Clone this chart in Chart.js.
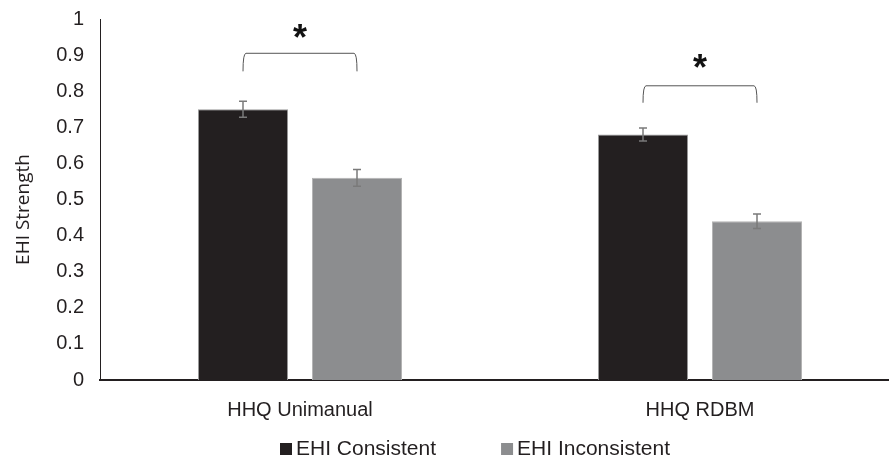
<!DOCTYPE html>
<html>
<head>
<meta charset="utf-8">
<script src="https://cdn.jsdelivr.net/npm/chart.js@4"></script>
<style>
  html, body { margin: 0; padding: 0; background: #fff; overflow: hidden; }
  #wrap { width: 900px; height: 462px; }
</style>
</head>
<body>
<div id="wrap"><canvas id="ehi-chart"></canvas></div>
<script>
  // Data
  var categories = ["HHQ Unimanual", "HHQ RDBM"];
  var consistent = [0.75, 0.68];
  var inconsistent = [0.56, 0.44];
  var consistentErr = [0.022, 0.018];
  var inconsistentErr = [0.023, 0.02];
  var yTicks = [0, 0.1, 0.2, 0.3, 0.4, 0.5, 0.6, 0.7, 0.8, 0.9, 1];
  var yTitle = "EHI Strength";
  // significance brackets: top of bracket, bottom of legs, star position
  var bracketTop = [0.905, 0.815];
  var bracketFoot = [0.855, 0.768];
  var starLevel = [0.965, 0.88];
  var starText = ["*", "*"];

  var FONT = "'Liberation Sans', Arial, sans-serif";
  var TEXT = "#231f20";

  // error bars + brackets
  var extras = {
    id: "extras",
    afterDatasetsDraw: function (chart) {
      var ctx = chart.ctx;
      var y = chart.scales.y;
      var errs = [consistentErr, inconsistentErr];
      var vals = [consistent, inconsistent];
      ctx.save();
      ctx.strokeStyle = "#7a7a7a";
      ctx.lineWidth = 1.5;
      for (var d = 0; d < 2; d++) {
        var meta = chart.getDatasetMeta(d);
        meta.data.forEach(function (bar, i) {
          var lo = y.getPixelForValue(vals[d][i] - errs[d][i]);
          var hi = y.getPixelForValue(vals[d][i] + errs[d][i]);
          ctx.beginPath();
          ctx.moveTo(bar.x, lo); ctx.lineTo(bar.x, hi);
          ctx.moveTo(bar.x - 4, lo); ctx.lineTo(bar.x + 4, lo);
          ctx.moveTo(bar.x - 4, hi); ctx.lineTo(bar.x + 4, hi);
          ctx.stroke();
        });
      }
      ctx.strokeStyle = "#555";
      ctx.lineWidth = 1;
      ctx.lineJoin = "round";
      var a = chart.getDatasetMeta(0).data, b = chart.getDatasetMeta(1).data;
      for (var i = 0; i < categories.length; i++) {
        var x1 = a[i].x, x2 = b[i].x;
        var t = y.getPixelForValue(bracketTop[i]);
        var f = y.getPixelForValue(bracketFoot[i]);
        ctx.beginPath();
        ctx.moveTo(x1, f);
        ctx.quadraticCurveTo(x1, t, x1 + 3, t);
        ctx.lineTo(x2 - 3, t);
        ctx.quadraticCurveTo(x2, t, x2, f);
        ctx.stroke();
        ctx.fillStyle = "#111";
        ctx.font = "bold 36px " + FONT;
        ctx.textAlign = "center";
        ctx.textBaseline = "middle";
        ctx.fillText(starText[i], (x1 + x2) / 2, y.getPixelForValue(starLevel[i]) + 8);
      }
      ctx.restore();
    }
  };

  // y title and legend drawn by hand so placement matches the original
  var labelsPlugin = {
    id: "labelsPlugin",
    afterDraw: function (chart) {
      var ctx = chart.ctx;
      var area = chart.chartArea;
      ctx.save();
      ctx.fillStyle = TEXT;
      ctx.font = "19px 'Open Sans', sans-serif";
      ctx.textAlign = "center";
      ctx.textBaseline = "middle";
      ctx.translate(24, (area.top + area.bottom) / 2 + 10);
      ctx.rotate(-Math.PI / 2);
      ctx.fillText(yTitle, 0, 0);
      ctx.restore();

      var x = 280, yMid = 449;
      ctx.save();
      ctx.font = "21px " + FONT;
      ctx.textBaseline = "middle";
      ctx.textAlign = "left";
      chart.data.datasets.forEach(function (ds) {
        ctx.fillStyle = ds.backgroundColor;
        ctx.fillRect(x, yMid - 6, 12, 12);
        ctx.fillStyle = TEXT;
        ctx.fillText(ds.label, x + 16, yMid);
        x += 16 + ctx.measureText(ds.label).width + 65;
      });
      ctx.restore();
    }
  };

  var ctx = document.getElementById("ehi-chart").getContext("2d");
  var myChart = new Chart(ctx, {
    type: "bar",
    data: {
      labels: categories,
      datasets: [{
        label: "EHI Consistent",
        data: consistent,
        backgroundColor: "#231f20",
        borderColor: "#9a9a9a",
        borderWidth: 1,
        borderSkipped: "bottom"
      },
      {
        label: "EHI Inconsistent",
        data: inconsistent,
        backgroundColor: "#8c8d8f",
        borderColor: "#b4b4b4",
        borderWidth: 1,
        borderSkipped: "bottom"
      }]
    },
    options: {
      responsive: true,
      maintainAspectRatio: false,
      animation: false,
      categoryPercentage: 0.57,
      barPercentage: 0.79,
      layout: { padding: { top: 19, right: 0, left: 0, bottom: 22 } },
      scales: {
        x: {
          grid: { display: false, drawTicks: false },
          border: { color: "#231f20", width: 2 },
          ticks: { color: TEXT, font: { family: FONT, size: 20 }, padding: 18 }
        },
        y: {
          min: 0,
          max: 1,
          afterBuildTicks: function (axis) {
            axis.ticks = yTicks.map(function (v) { return { value: v }; });
          },
          afterFit: function (axis) {
            axis.width = 100;
          },
          grid: { display: false, drawTicks: false },
          border: { color: "#231f20", width: 1 },
          ticks: {
            color: TEXT,
            font: { family: FONT, size: 20, lineHeight: 0.2 },
            padding: 16,
            callback: function (v) { return String(v); }
          }
        }
      },
      plugins: {
        legend: { display: false },
        tooltip: { enabled: false }
      }
    },
    plugins: [extras, labelsPlugin]
  });
</script>
</body>
</html>
